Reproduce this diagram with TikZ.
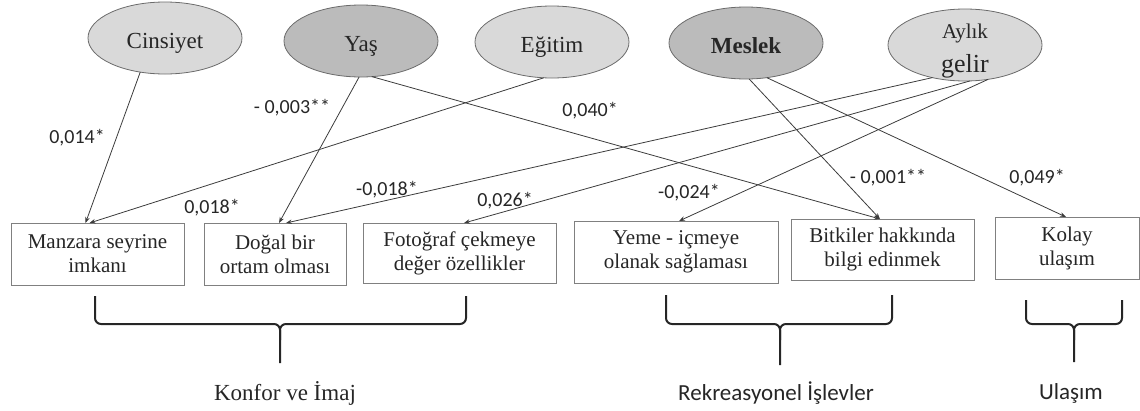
\documentclass[tikz,border=0pt]{standalone}
\usepackage{fontspec}
\setmainfont{Liberation Serif}
\newfontfamily\numfont{Carlito}
\usetikzlibrary{shapes.geometric,arrows.meta}
\definecolor{lightell}{HTML}{D9D9D9}
\definecolor{darkell}{HTML}{BBBBBB}
\definecolor{ellline}{HTML}{6B6B6B}
\definecolor{boxline}{HTML}{808080}
\definecolor{connc}{HTML}{3C3C3C}
\definecolor{txt}{HTML}{262626}
\begin{document}
\begin{tikzpicture}[x=1pt,y=-1pt,
 ell/.style={ellipse,draw=ellline,line width=0.8pt,minimum width=154pt,minimum height=72pt,inner sep=0pt,outer sep=0pt,text=txt,font=\fontsize{23pt}{26pt}\selectfont,text height=20pt,text depth=0pt},
 lightell/.style={ell,fill=lightell},
 darkell/.style={ell,fill=darkell},
 boxnode/.style={draw=boxline,line width=0.9pt,fill=white,align=center,inner sep=2pt,outer sep=0pt,text=txt,font=\fontsize{21pt}{24pt}\selectfont,minimum height=62pt},
 lab/.style={font=\numfont\fontsize{20pt}{24pt}\selectfont,text=txt,inner sep=0pt},
 connector/.style={draw=connc,line width=0.8pt,-{Stealth[length=6pt,width=4.5pt]}},
 bracepath/.style={draw=txt,line width=2pt,rounded corners=6pt},
 grp/.style={text=txt,inner sep=0pt}
]
\useasboundingbox (0,0) rectangle (1140,410);
% ellipses
\node[lightell] (cins) at (165,38) {Cinsiyet};
\node[darkell] (yas) at (361,41) {Yaş};
\node[lightell] (egitim) at (552,42) {Eğitim};
\node[darkell,font=\bfseries\fontsize{23pt}{26pt}\selectfont] (meslek) at (746,43) {Meslek};
\node[lightell] (aylik) at (965,45) {};
\node[grp,anchor=base,font=\fontsize{21pt}{24pt}\selectfont] (aylikA) at (965,38) {Aylık};
\node[grp,anchor=base,font=\fontsize{26pt}{30pt}\selectfont] (aylikB) at (965,72) {gelir};
% boxes
\node[boxnode,minimum width=173pt] (manzara) at (97.5,254) {Manzara seyrine\\imkanı};
\node[boxnode,minimum width=142pt] (dogal) at (275,254) {Doğal bir\\ortam olması};
\node[boxnode,minimum width=193pt,minimum height=60pt] (foto) at (459.5,253) {Fotoğraf çekmeye\\değer özellikler};
\node[boxnode,minimum width=204pt] (yeme) at (676,252) {Yeme - içmeye\\olanak sağlaması};
\node[boxnode,minimum width=183pt,minimum height=61pt] (bitki) at (882.5,249.5) {Bitkiler hakkında\\bilgi edinmek};
\node[boxnode,minimum width=144pt] (kolay) at (1067,248) {Kolay\\ulaşım};
% connectors
\draw[connector] (cins.234) -- ([xshift=-12pt]manzara.north);
\draw[connector] (egitim.257) -- ([xshift=-8pt]manzara.north);
\draw[connector] (yas.267) -- ([xshift=4pt]dogal.north);
\draw[connector] (aylik.225) -- ([xshift=11pt]dogal.north);
\draw[connector] (yas.287) -- ([xshift=-2.5pt]bitki.north);
\draw[connector] (meslek.275) -- ([xshift=-2.5pt]bitki.north);
\draw[connector] (meslek.301) -- ([xshift=-1pt]kolay.north);
\draw[connector] (aylik.278) -- ([xshift=4.5pt]foto.north);
\draw[connector] (aylik.304) -- ([xshift=3pt]yeme.north);
% labels
\node[lab] (l1) at (77,138) {0,014*};
\node[lab] (l2) at (292,108) {- 0,003**};
\node[lab] (l3) at (590,111) {0,040*};
\node[lab] (l4) at (387,190) {-0,018*};
\node[lab] (l5) at (212,208) {0,018*};
\node[lab] (l6) at (505,201) {0,026*};
\node[lab] (l7) at (689,193) {-0,024*};
\node[lab] (l8) at (888,178) {- 0,001**};
\node[lab] (l9) at (1037,178) {0,049*};
% braces
\draw[bracepath] (95,296) -- (95,324) -- (280,324) -- (280,363);
\draw[bracepath] (466,296) -- (466,324) -- (280,324) -- (280,340);
\draw[bracepath] (666,295) -- (666,324) -- (780,324) -- (780,365);
\draw[bracepath] (892,295) -- (892,324) -- (780,324) -- (780,340);
\draw[bracepath] (1026,300) -- (1026,324) -- (1074,324) -- (1074,362);
\draw[bracepath] (1122,300) -- (1122,324) -- (1074,324) -- (1074,340);
% group labels
\node[grp,font=\fontsize{23pt}{26pt}\selectfont] (konfor) at (285,393) {Konfor ve İmaj};
\node[grp,font=\numfont\fontsize{23pt}{26pt}\selectfont] (rekre) at (776,393) {Rekreasyonel İşlevler};
\node[grp,font=\numfont\fontsize{23pt}{26pt}\selectfont] (ulasim) at (1071,393) {Ulaşım};
\end{tikzpicture}
\end{document}
